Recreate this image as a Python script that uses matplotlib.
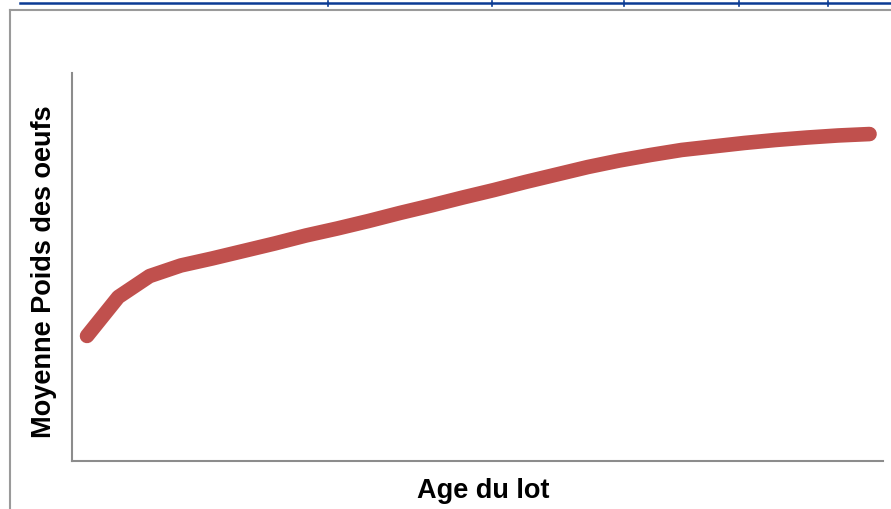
"""Excel-style line chart: mean egg weight vs flock age (no tick labels)."""

import matplotlib
matplotlib.use("Agg")
import matplotlib.pyplot as plt
from matplotlib.lines import Line2D

# flock age (weeks) and mean egg weight (g)
age = list(range(20, 46))
poids = [49.67, 52.68, 54.30, 55.12, 55.66, 56.24, 56.82, 57.44, 57.98,
         58.56, 59.18, 59.76, 60.37, 60.95, 61.57, 62.15, 62.73, 63.23,
         63.66, 64.05, 64.32, 64.59, 64.82, 65.01, 65.17, 65.28]

plt.rcParams.update({"font.family": ["Liberation Sans", "DejaVu Sans"]})
W, H = 891, 509
fig = plt.figure(figsize=(W / 100, H / 100), dpi=100)

# page decorations: blue rule with small ticks, grey frame
fig.add_artist(Line2D([20 / W, 1], [1 - 3 / H, 1 - 3 / H], color="#0B3B94", lw=1.8))
for tx in [328, 492, 624, 739, 828]:
    fig.add_artist(Line2D([tx / W, tx / W], [1 - 0.5 / H, 1 - 6 / H],
                          color="#0B3B94", lw=1.2))
fig.add_artist(Line2D([9.5 / W, 1], [1 - 10 / H, 1 - 10 / H], color="#9A9A9A", lw=1.5))
fig.add_artist(Line2D([9.5 / W, 9.5 / W], [0, 1 - 10 / H], color="#9A9A9A", lw=1.5))

ax = fig.add_axes([72 / W, 48 / H, (883 - 72) / W, (461 - 73) / H])
ax.plot(age, poids, color="#C0504D", lw=10.5, solid_capstyle="round",
        solid_joinstyle="round")
ax.set_xlim(19.52, 45.43)
ax.set_ylim(40, 70)
ax.set_xticks([])
ax.set_yticks([])
for s in ["top", "right"]:
    ax.spines[s].set_visible(False)
for s in ["left", "bottom"]:
    ax.spines[s].set_color("#8C8C8C")
    ax.spines[s].set_linewidth(1.5)

fig.text(483 / W, 1 - 491 / H, "Age du lot", ha="center", va="center",
         fontsize=19.5, fontweight="bold")
fig.text(44 / W, 1 - 272 / H, "Moyenne Poids des oeufs", ha="center", va="center",
         rotation=90, fontsize=19.5, fontweight="bold")

fig.savefig("out.png", dpi=100)
